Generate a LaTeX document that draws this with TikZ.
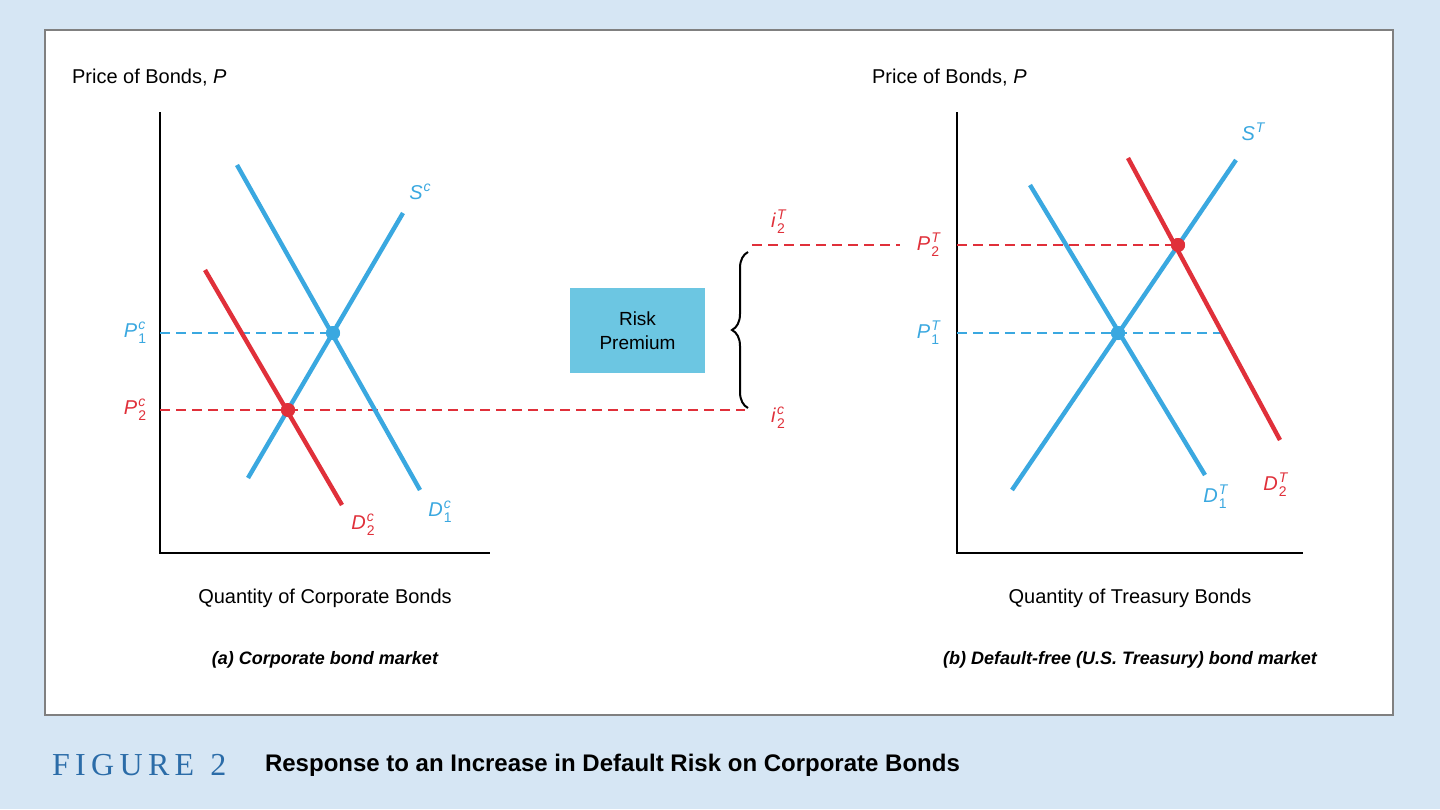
\documentclass[tikz,border=0pt]{standalone}
\usepackage{fontspec}
\setmainfont{Liberation Sans}
\newfontfamily\capfont{Liberation Serif}
\usetikzlibrary{decorations.pathreplacing}
\definecolor{bgblue}{HTML}{D6E6F4}
\definecolor{cblue}{HTML}{3AA8E0}
\definecolor{cred}{HTML}{E0303A}
\definecolor{boxblue}{HTML}{6CC6E2}
\definecolor{figblue}{HTML}{2B6CA8}
\newcommand\mylab[3]{\textit{#1}\kern0.5pt\rlap{\raisebox{0.75ex}{\fontsize{7}{8}\selectfont\itshape #2}}\raisebox{-0.55ex}{\fontsize{7}{8}\selectfont #3}}
\newcommand\mysup[2]{\textit{#1}\kern0.5pt\raisebox{0.75ex}{\fontsize{7}{8}\selectfont\itshape #2}}
\begin{document}
\begin{tikzpicture}[x=0.5pt,y=-0.5pt,
  curve/.style={line width=2.2pt},
  bl/.style={curve,cblue}, rd/.style={curve,cred},
  dsh/.style={dashed,line width=0.7pt,dash pattern=on 5pt off 3pt},
  lbl/.style={font=\fontsize{10}{12}\selectfont},
  dot/.style={circle,inner sep=0pt,minimum size=7pt}]
\fill[bgblue] (0,0) rectangle (1440,809);
\useasboundingbox (0,0) rectangle (1440,809);
\draw[gray,fill=white,line width=0.8pt] (45,30) rectangle (1393,715);
% captions
\node[anchor=west,text=figblue,font=\capfont\fontsize{16}{18}\selectfont] (fig) at (45,765) {F\,I\,G\,U\,R\,E\ \ 2};
\node[anchor=west,font=\bfseries\fontsize{12}{14}\selectfont] (title) at (258,765) {Response to an Increase in Default Risk on Corporate Bonds};
% left axes
\coordinate (lo) at (160,553);
\draw[line width=0.8pt] (160,112) coordinate (ly) -- (lo) -- (490,553) coordinate (lx);
\node[lbl,anchor=west] (lyl) at (65,78) {Price of Bonds, \textit{P}};
\node[lbl] (lxl) at (325,598) {Quantity of Corporate Bonds};
\node[font=\bfseries\itshape\fontsize{9}{11}\selectfont] (capa) at (325,660) {(a) Corporate bond market};
% right axes
\coordinate (ro) at (957,553);
\draw[line width=0.8pt] (957,112) coordinate (ry) -- (ro) -- (1303,553) coordinate (rx);
\node[lbl,anchor=west] (ryl) at (865,78) {Price of Bonds, \textit{P}};
\node[lbl] (rxl) at (1130,598) {Quantity of Treasury Bonds};
\node[font=\bfseries\itshape\fontsize{9}{11}\selectfont] (capb) at (1130,660) {(b) Default-free (U.S. Treasury) bond market};
% points
\node[dot,fill=cblue] (e1c) at (333,333) {};
\node[dot,fill=cred] (e2c) at (288,410) {};
\node[dot,fill=cblue] (e1t) at (1118,333) {};
\node[dot,fill=cred] (e2t) at (1178,245) {};
% dashed lines
\coordinate (p1cL) at (160,333);
\coordinate (p2cL) at (160,410);
\coordinate (p2cR) at (745,410);
\coordinate (p1tL) at (957,333);
\coordinate (p1tR) at (1222,333);
\coordinate (p2tL) at (752,245);
\coordinate (p2tM) at (900,245);
\coordinate (p2tA) at (957,245);
\draw[dsh,cblue] (p1cL) -- (e1c);
\draw[dsh,cred] (p2cL) -- (p2cR);
\draw[dsh,cblue] (p1tL) -- (p1tR);
\draw[dsh,cred] (p2tL) -- (p2tM);
\draw[dsh,cred] (p2tA) -- (e2t);
% left curves
\draw[bl] (248,478) coordinate (sc1) -- (403,213) coordinate (sc2);
\draw[bl] (237,165) coordinate (d1c1) -- (420,490) coordinate (d1c2);
\draw[rd] (205,270) coordinate (d2c1) -- (342,505) coordinate (d2c2);
\node[dot,fill=cblue] at (e1c) {};
\node[dot,fill=cred] at (e2c) {};
% right curves
\draw[bl] (1012,490) coordinate (st1) -- (1236,160) coordinate (st2);
\draw[bl] (1030,185) coordinate (d1t1) -- (1205,475) coordinate (d1t2);
\draw[rd] (1128,158) coordinate (d2t1) -- (1280,440) coordinate (d2t2);
\node[dot,fill=cblue] at (e1t) {};
\node[dot,fill=cred] at (e2t) {};
% curve labels
\node[lbl,text=cblue] (lsc) at (420,192) {\mysup{S}{c}};
\node[lbl,text=cblue] (ld1c) at (440,512) {\mylab{D}{c}{1}};
\node[lbl,text=cred] (ld2c) at (363,525) {\mylab{D}{c}{2}};
\node[lbl,text=cblue] (lp1c) at (135,333) {\mylab{P}{c}{1}};
\node[lbl,text=cred] (lp2c) at (135,410) {\mylab{P}{c}{2}};
\node[lbl,text=cblue] (lst) at (1253,132) {\mysup{S}{T}};
\node[lbl,text=cblue] (ld1t) at (1215,497) {\mylab{D}{T}{1}};
\node[lbl,text=cred] (ld2t) at (1275,485) {\mylab{D}{T}{2}};
\node[lbl,text=cblue] (lp1t) at (928,333) {\mylab{P}{T}{1}};
\node[lbl,text=cred] (lp2t) at (928,245) {\mylab{P}{T}{2}};
\node[lbl,text=cred] (li2t) at (778,222) {\mylab{i}{T}{2}};
\node[lbl,text=cred] (li2c) at (778,418) {\mylab{i}{c}{2}};
% brace
\draw[line width=1pt,decorate,decoration={brace,amplitude=8pt}] (748,408) -- (748,252);
% risk premium box
\node[fill=boxblue,minimum width=67.5pt,minimum height=42.5pt,align=center,font=\fontsize{9.5}{12}\selectfont] (rp) at (637.5,330.5) {Risk\\Premium};
\end{tikzpicture}
\end{document}
